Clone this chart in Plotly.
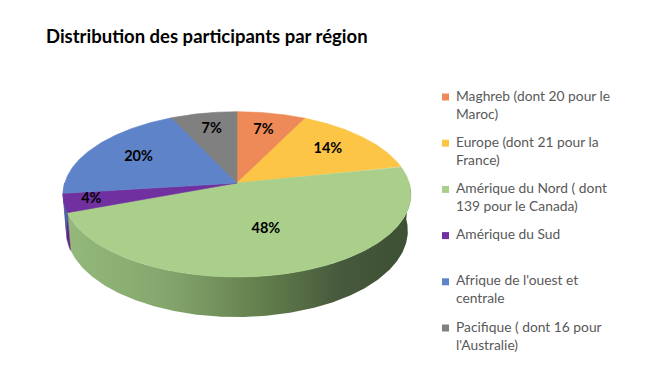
import numpy as np
import plotly.graph_objects as go

# ---------------- data ----------------
categories = [
    "Maghreb (dont 20 pour le Maroc)",
    "Europe (dont 21 pour la France)",
    "Amérique du Nord ( dont 139 pour le Canada)",
    "Amérique du Sud",
    "Afrique de l'ouest et centrale",
    "Pacifique ( dont 16 pour l'Australie)",
]
legend_labels = [
    "Maghreb (dont 20 pour le<br>Maroc)",
    "Europe (dont 21 pour la<br>France)",
    "Amérique du Nord ( dont<br>139 pour le Canada)",
    "Amérique du Sud",
    "Afrique de l'ouest et<br>centrale",
    "Pacifique ( dont 16 pour<br>l'Australie)",
]
participants = [22, 43, 143, 11, 60, 21]

# ---------------- styles ----------------
top_colors = ["#EE8A57", "#FCC545", "#A9CF8B", "#7030A0", "#5F83C8", "#808080"]
side_colors = ["#C8683A", "#D8A231", None, "#5B2784", "#4A68A3", "#666666"]
green_side_scale = [[0.0, "#95ba7c"], [0.3, "#84a66d"], [0.55, "#66824f"],
                    [0.8, "#46593b"], [1.0, "#3d4f34"]]

# the page body has an 8px margin: the figure sits at (8, 8) in the window,
# so axis ranges are expressed in window pixels
OFF = 8
WIN_W, WIN_H = 671, 375
FIG_W, FIG_H = WIN_W - 2 * OFF, WIN_H - 2 * OFF

# 3D pie projection parameters (window pixel space)
CX, CY = 237.0, 183.0
K = 172.3
SIN_A, COS_A = 0.4707, 0.882
DIST = 6.42
THICK = 0.243


def project(u, v, w):
    y3 = v * SIN_A + w * COS_A
    z = v * COS_A - w * SIN_A
    s = DIST / (DIST + z)
    return CX + K * u * s, CY - K * y3 * s


def rim(t0, t1, w):
    t = np.linspace(t0, t1, max(int(abs(t1 - t0) / (2 * np.pi) * 720), 4))
    return project(np.sin(t), np.cos(t), w)


vals = np.array(participants, dtype=float)
frac = vals / vals.sum()
edges = np.concatenate([[0.0], np.cumsum(frac)]) * 2 * np.pi

fig = go.Figure()

# side walls (front half of the cylinder is visible)
vis0, vis1 = np.pi / 2, 3 * np.pi / 2
for i in range(len(vals)):
    a0, a1 = max(edges[i], vis0), min(edges[i + 1], vis1)
    if a1 <= a0:
        continue
    xt, yt = rim(a0, a1, 0.0)
    xb, yb = rim(a1, a0, -THICK)
    xs = np.concatenate([xt, xb, xt[:1]])
    ys = np.concatenate([yt, yb, yt[:1]])
    if side_colors[i] is None:
        fig.add_trace(go.Scatter(
            x=xs, y=ys, mode="lines", fill="toself",
            line=dict(width=0), hoverinfo="skip", showlegend=False,
            fillgradient=dict(type="horizontal", colorscale=green_side_scale,
                              start=CX - K * 1.01, stop=CX + K * 1.01)))
    else:
        fig.add_trace(go.Scatter(
            x=xs, y=ys, mode="lines", fill="toself", fillcolor=side_colors[i],
            line=dict(width=0.5, color=side_colors[i]),
            hoverinfo="skip", showlegend=False))

# top faces
for i in range(len(vals)):
    xr, yr = rim(edges[i], edges[i + 1], 0.0)
    xs = np.concatenate([[CX], xr, [CX]])
    ys = np.concatenate([[CY], yr, [CY]])
    fig.add_trace(go.Scatter(
        x=xs, y=ys, mode="lines", fill="toself", fillcolor=top_colors[i],
        line=dict(width=0.6, color=top_colors[i]), name=categories[i],
        hoverinfo="name", showlegend=False))

# percentage labels ("best fit": big slices pull labels inwards, tiny ones outwards)
mid = (edges[:-1] + edges[1:]) / 2
r_lab = 0.74 - 0.45 * np.maximum(frac - 0.07, 0) + 8 * np.maximum(0.05 - frac, 0)
lx, ly = project(r_lab * np.sin(mid), r_lab * np.cos(mid), 0.0)
fig.add_trace(go.Scatter(
    x=lx, y=ly, mode="text",
    text=[f"<b>{round(p * 100)}%</b>" for p in frac],
    textfont=dict(family="Lato, Open Sans, sans-serif", size=14.5, color="#000000"),
    hoverinfo="skip", showlegend=False))

# legend (manual, to match Excel layout)
LEG_X, LEG_Y0, LEG_DY, SQ = 442.0, 97.0, 46.2, 7.0
for i, lab in enumerate(legend_labels):
    yc = LEG_Y0 + i * LEG_DY
    fig.add_shape(type="rect", xref="x", yref="y",
                  x0=LEG_X, x1=LEG_X + SQ, y0=yc - SQ / 2, y1=yc + SQ / 2,
                  fillcolor=top_colors[i], line=dict(width=0))
    fig.add_annotation(x=LEG_X + 12, y=yc - 12.5, xref="x", yref="y",
                       text=lab, showarrow=False, xanchor="left", yanchor="top",
                       align="left",
                       font=dict(family="Lato, Open Sans, sans-serif", size=13.8,
                                 color="#595959"))

fig.update_layout(
    width=FIG_W, height=FIG_H,
    margin=dict(l=0, r=0, t=0, b=0),
    paper_bgcolor="white", plot_bgcolor="white",
    title=dict(text="<b>Distribution des participants par région</b>",
               x=(46 - OFF) / FIG_W, xanchor="left",
               y=1 - (37 - OFF) / FIG_H, yanchor="middle",
               xref="paper", yref="paper",
               font=dict(family="Lato, Open Sans, sans-serif", size=18.5,
                         color="#000000")),
    xaxis=dict(range=[OFF, OFF + FIG_W], visible=False, fixedrange=True),
    yaxis=dict(range=[OFF + FIG_H, OFF], visible=False, fixedrange=True),
    showlegend=False,
)

fig.write_html("out.html")
